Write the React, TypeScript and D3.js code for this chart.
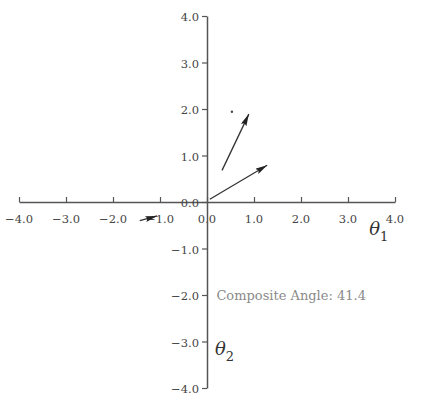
import React, { useEffect, useRef } from 'react';
import * as d3 from 'd3';

// axis ticks (both axes -4..4)
const tickValues = [-4, -3, -2, -1, 0, 1, 2, 3, 4];

// vectors: tail x, tail y, head x, head y
const vectors = [
    { x0: 0.06, y0: 0.06, x1: 1.28, y1: 0.79 },
    { x0: 0.32, y0: 0.68, x1: 0.89, y1: 1.89 },
    { x0: -1.43, y0: -0.4, x1: -1.06, y1: -0.3 },
];

const points = [{ x: 0.53, y: 1.94 }];

const compositeAngle = 41.4;

function VectorChart() {
    const svgRef = useRef<SVGSVGElement>(null);

    useEffect(() => {
        const svg = d3.select(svgRef.current);
        svg.selectAll('*').remove();

        const x = d3.scaleLinear().domain([-4, 4]).range([19, 395]);
        const y = d3.scaleLinear().domain([-4, 4]).range([388, 16]);

        const axisColor = '#555';
        const font = '"DejaVu Serif", serif';
        const fmt = (d: number) => d3.format('.1f')(d).replace('-', '\u2212');

        svg.append('defs')
            .append('marker')
            .attr('id', 'head')
            .attr('viewBox', '0 0 12 6')
            .attr('refX', 12)
            .attr('refY', 3)
            .attr('markerWidth', 12)
            .attr('markerHeight', 6)
            .attr('markerUnits', 'userSpaceOnUse')
            .attr('orient', 'auto')
            .append('path')
            .attr('d', 'M0,0 L12,3 L0,6 L2,3 Z')
            .attr('fill', '#222');

        // x axis, ticks pointing up
        const xAxis = svg.append('g')
            .attr('transform', `translate(0,${y(0)})`)
            .call(d3.axisTop(x).tickValues(tickValues).tickSize(5).tickSizeOuter(0).tickFormat(() => ''));
        xAxis.select('.domain').attr('stroke', axisColor).attr('stroke-width', 1.5);
        xAxis.selectAll('line').attr('stroke', axisColor).attr('stroke-width', 1.2);

        svg.append('g')
            .selectAll('text')
            .data(tickValues)
            .enter().append('text')
            .attr('x', d => x(d))
            .attr('y', y(0) + 21)
            .attr('text-anchor', 'middle')
            .style('font-family', font)
            .style('font-size', '11.5px')
            .style('fill', '#444')
            .text(d => fmt(d));

        // y axis, ticks pointing left
        const yAxis = svg.append('g')
            .attr('transform', `translate(${x(0)},0)`)
            .call(d3.axisLeft(y).tickValues(tickValues).tickSize(5).tickSizeOuter(0).tickPadding(3)
                .tickFormat(d => fmt(d as number)));
        yAxis.select('.domain').attr('stroke', axisColor).attr('stroke-width', 1.5);
        yAxis.selectAll('line').attr('stroke', axisColor).attr('stroke-width', 1.2);
        yAxis.selectAll('text')
            .attr('dy', '0.4em')
            .style('font-family', font)
            .style('font-size', '11.5px')
            .style('fill', '#444');

        // vectors
        svg.append('g')
            .selectAll('line')
            .data(vectors)
            .enter().append('line')
            .attr('x1', d => x(d.x0))
            .attr('y1', d => y(d.y0))
            .attr('x2', d => x(d.x1))
            .attr('y2', d => y(d.y1))
            .attr('stroke', '#333')
            .attr('stroke-width', 1.3)
            .attr('marker-end', 'url(#head)');

        svg.append('g')
            .selectAll('circle')
            .data(points)
            .enter().append('circle')
            .attr('cx', d => x(d.x))
            .attr('cy', d => y(d.y))
            .attr('r', 1.2)
            .attr('fill', '#444');

        // axis names
        const t1 = svg.append('text')
            .attr('x', x(3.45))
            .attr('y', y(-0.72))
            .style('font-family', font)
            .style('font-size', '18px')
            .style('font-style', 'italic')
            .style('fill', '#333');
        t1.append('tspan').text('\u03b8');
        t1.append('tspan').attr('dy', 6).style('font-size', '13px').style('font-style', 'normal').text('1');

        const t2 = svg.append('text')
            .attr('x', x(0.17))
            .attr('y', y(-3.28))
            .style('font-family', font)
            .style('font-size', '18px')
            .style('font-style', 'italic')
            .style('fill', '#333');
        t2.append('tspan').text('\u03b8');
        t2.append('tspan').attr('dy', 6).style('font-size', '13px').style('font-style', 'normal').text('2');

        svg.append('text')
            .attr('x', x(0.2))
            .attr('y', y(-2.0) + 5)
            .style('font-family', font)
            .style('font-size', '13px')
            .style('fill', '#8a8a8a')
            .text(`Composite Angle: ${compositeAngle}`);
    }, []);

    return <svg ref={svgRef} width={426} height={396} style={{ position: 'absolute', left: 0, top: 0, background: '#fff' }}></svg>;
}

export default function App() {
    return <VectorChart />;
}
